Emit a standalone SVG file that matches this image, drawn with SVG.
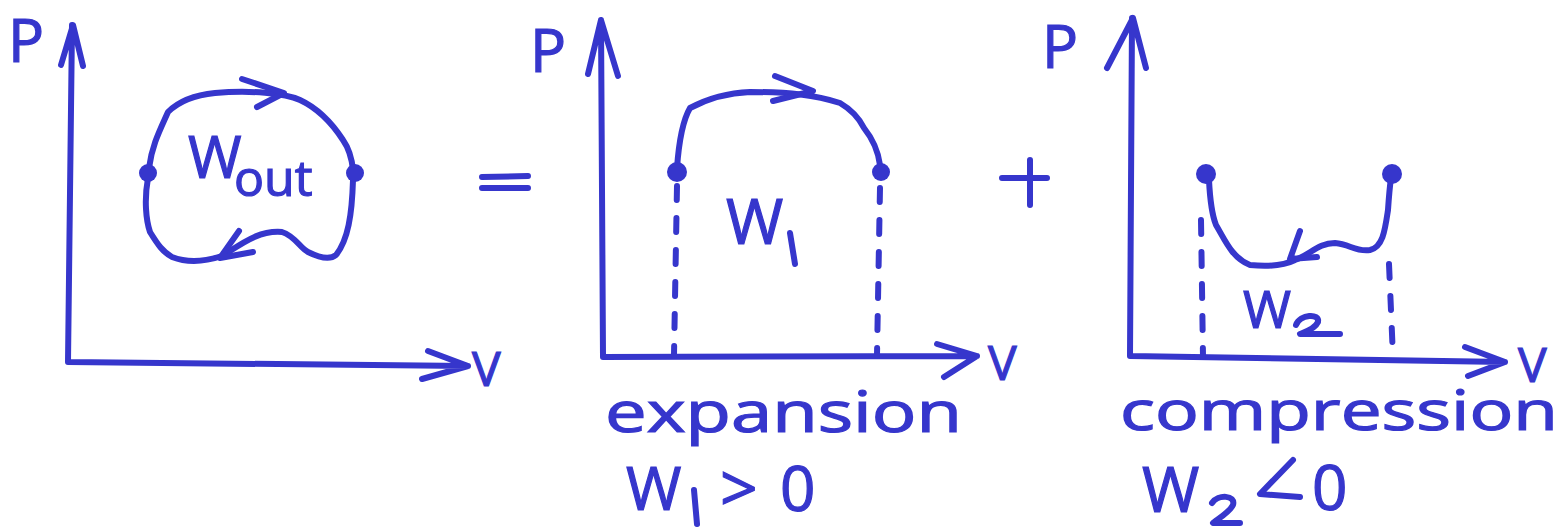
<svg xmlns="http://www.w3.org/2000/svg" width="1567" height="529" viewBox="0 0 1567 529">
<style>
.s{fill:none;stroke:#3636cc;stroke-width:6;stroke-linecap:round;stroke-linejoin:round}
.d{fill:none;stroke:#3636cc;stroke-width:6;stroke-linecap:round;stroke-dasharray:14 18}
.dot{fill:#3636cc}
.t{fill:#3636cc;stroke:#3636cc;stroke-width:1.2;font-family:"Open Sans","Liberation Sans",sans-serif}
</style>
<rect width="1567" height="529" fill="#fff"/>
<g id="panel-cycle">
  <g id="axes1">
    <path class="s" d="M68,362 L72,25 M61,65 L73,25 L83,66 M68,362 L468,366 M428,351 L468,366 L422,379"/>
    <text class="t" x="8" y="62" font-size="60">P</text>
    <text class="t" x="472" y="386" font-size="48">V</text>
  </g>
  <g id="loop1">
    <path class="s" d="M149,168 C152,145 160,130 168,112 C180,100 195,95 215,93 C250,90 285,93 300,100 C315,107 330,120 343,140 C350,150 352,160 353,170"/>
    <path class="s" d="M148,178 C144,200 146,220 150,232 C158,245 163,252 172,257 C190,264 210,260 222,256 C240,245 258,230 282,232 C295,236 300,248 308,252 C320,258 330,260 336,255 C348,240 352,215 353,180"/>
    <path class="s" d="M242,79 L284,93 L257,107"/>
    <path class="s" d="M239,231 L220,258 L253,252"/>
    <circle class="dot" cx="148" cy="173" r="9"/>
    <circle class="dot" cx="355" cy="173" r="9"/>
    <text class="t" x="188" y="178" font-size="58">W</text>
    <text class="t" x="234" y="196" font-size="50">out</text>
  </g>
</g>
<g id="equals"><path class="s" d="M482,177 L528,176 M482,188 L528,188"/></g>
<g id="panel-expansion">
  <g id="axes2">
    <path class="s" d="M603,357 L601,20 M588,74 L601,20 L618,76 M603,357 L977,356 M937,344 L977,356 L944,377"/>
    <text class="t" x="530" y="72" font-size="60">P</text>
    <text class="t" x="988" y="380" font-size="48">V</text>
  </g>
  <g id="curve1">
    <path class="s" d="M677,168 C679,140 683,120 690,108 C705,100 725,93 750,92 C790,92 815,95 840,103 C852,110 860,120 864,128 C872,138 878,150 880,165"/>
    <path class="s" d="M775,76 L813,91 L773,101"/>
    <path class="d" d="M677,186 L674,355 M880,188 L877,355"/>
    <circle class="dot" cx="677" cy="172" r="10"/>
    <circle class="dot" cx="881" cy="172" r="9"/>
    <text class="t" x="726" y="244" font-size="62">W</text>
    <path class="s" d="M790,233 L795,264"/>
  </g>
  <g id="label2">
    <text class="t" x="605" y="432" font-size="56" textLength="357" lengthAdjust="spacingAndGlyphs">expansion</text>
    <text class="t" x="626" y="510" font-size="60">W</text>
    <path class="s" d="M694,490 L697,524"/>
    <text class="t" x="720" y="512" font-size="66">&gt;</text>
    <text class="t" x="780" y="511" font-size="62">0</text>
  </g>
</g>
<g id="plus"><path class="s" d="M1002,178 L1047,178 M1030,160 L1030,205"/></g>
<g id="panel-compression">
  <g id="axes3">
    <path class="s" d="M1130,356 L1132,18 M1107,68 L1133,18 L1146,68 M1130,356 L1505,362 M1465,347 L1505,362 L1468,376"/>
    <text class="t" x="1042" y="68" font-size="60">P</text>
    <text class="t" x="1518" y="382" font-size="48">V</text>
  </g>
  <g id="curve2">
    <path class="s" d="M1209,180 C1210,200 1212,215 1216,225 C1225,240 1232,258 1250,265 C1270,267 1285,265 1295,260 C1310,255 1318,243 1335,243 C1350,244 1355,252 1370,250 C1383,247 1385,230 1388,210 C1389,195 1390,185 1391,178"/>
    <path class="s" d="M1300,231 L1290,259 L1317,257"/>
    <path class="d" d="M1201,220 L1203,357 M1389,264 L1393,357"/>
    <circle class="dot" cx="1206" cy="174" r="10"/>
    <circle class="dot" cx="1392" cy="174" r="10"/>
    <text class="t" x="1243" y="328" font-size="52">W</text>
    <path class="s" d="M1296,325 C1300,314 1320,313 1318,322 C1315,329 1305,332 1300,334 L1340,334"/>
  </g>
  <g id="label3">
    <text class="t" x="1120" y="430" font-size="54" textLength="438" lengthAdjust="spacingAndGlyphs">compression</text>
    <text class="t" x="1142" y="512" font-size="62">W</text>
    <path class="s" d="M1212,503 C1218,494 1236,495 1233,505 C1229,513 1216,520 1213,523 L1240,523"/>
    <path class="s" d="M1293,460 L1260,494 L1300,497"/>
    <text class="t" x="1312" y="510" font-size="62">0</text>
  </g>
</g>
</svg>
